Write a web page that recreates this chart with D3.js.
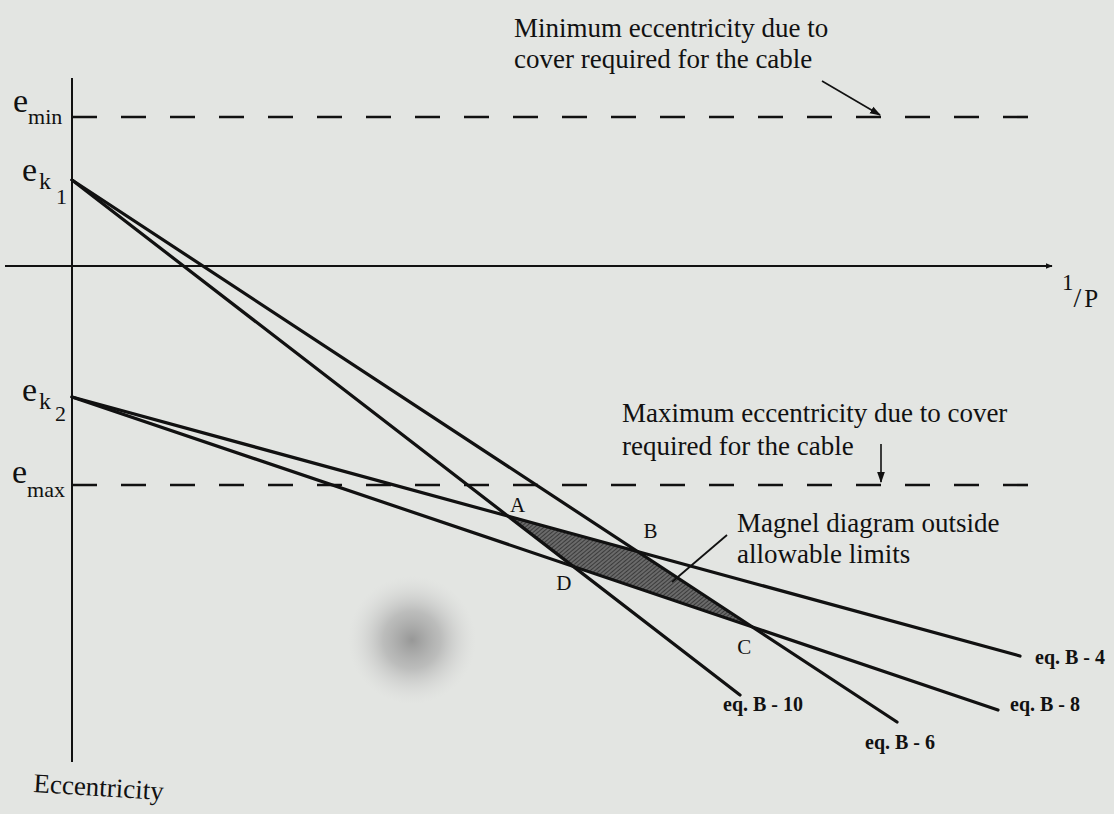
<!DOCTYPE html>
<html>
<head>
<meta charset="utf-8">
<script src="https://cdn.jsdelivr.net/npm/d3@7/dist/d3.min.js"></script>
<style>
  html, body { margin: 0; padding: 0; background: #e3e5e2; }
  svg { display: block; }
  text { font-family: "Liberation Serif", "Times New Roman", serif; fill: #111; }
</style>
</head>
<body>
<svg id="chart" width="1114" height="814"></svg>
<script>
// ---- data (abstract units: x = 1/P, y = eccentricity, downward positive) ----
const limitNames = ["min", "max"];
const limitValues = [-1.49, 2.19];               // e_min, e_max
const originNames = ["1", "2"];
const originValues = [-0.86, 1.31];             // e_k1, e_k2
const eqNames  = ["eq. B - 10", "eq. B - 6", "eq. B - 4", "eq. B - 8"];
const eqOrigin = [0, 0, 1, 1];                  // index into originValues
const eqEndX   = [6.68, 8.25, 9.48, 9.26];
const eqEndE   = [4.29, 4.56, 3.90, 4.44];
const cornerNames = ["A", "B", "C", "D"];
// corners as pairs of equations (indices into eqNames)
const cornerEqs = [[0, 2], [1, 2], [1, 3], [0, 3]];

const svg = d3.select("#chart");
const x = d3.scaleLinear().domain([0, 10]).range([72, 1072]);
const y = d3.scaleLinear().domain([0, 5]).range([266, 766]);

// defs
const defs = svg.append("defs");
const pat = defs.append("pattern").attr("id", "hatch").attr("patternUnits", "userSpaceOnUse")
  .attr("width", 3).attr("height", 3).attr("patternTransform", "rotate(50)");
pat.append("rect").attr("width", 3).attr("height", 3).attr("fill", "#6a6a6a");
pat.append("line").attr("x1", 0).attr("y1", 0).attr("x2", 0).attr("y2", 3)
  .attr("stroke", "#262626").attr("stroke-width", 1.4);
const rg = defs.append("radialGradient").attr("id", "blob");
rg.append("stop").attr("offset", "0%").attr("stop-color", "#8a8a8a").attr("stop-opacity", 0.85);
rg.append("stop").attr("offset", "45%").attr("stop-color", "#a2a2a2").attr("stop-opacity", 0.6);
rg.append("stop").attr("offset", "100%").attr("stop-color", "#d0d0d0").attr("stop-opacity", 0);
const mk = defs.append("marker").attr("id", "arr").attr("viewBox", "0 0 10 10")
  .attr("refX", 9).attr("refY", 5).attr("markerWidth", 7).attr("markerHeight", 7)
  .attr("orient", "auto-start-reverse").attr("markerUnits", "userSpaceOnUse");
mk.append("path").attr("d", "M0,1 L10,5 L0,9 Z").attr("fill", "#111");
const mk2 = defs.append("marker").attr("id", "arr2").attr("viewBox", "0 0 10 10")
  .attr("refX", 9).attr("refY", 5).attr("markerWidth", 11).attr("markerHeight", 11)
  .attr("orient", "auto").attr("markerUnits", "userSpaceOnUse");
mk2.append("path").attr("d", "M0,1.5 L10,5 L0,8.5 Z").attr("fill", "#111");

// background
svg.append("rect").attr("width", 1114).attr("height", 814).attr("fill", "#e3e5e2");
svg.append("circle").attr("cx", 412).attr("cy", 640).attr("r", 64).attr("fill", "url(#blob)");

// axes
svg.append("line").attr("x1", x(0)).attr("x2", x(0)).attr("y1", 78).attr("y2", 762)
  .attr("stroke", "#111").attr("stroke-width", 2);
svg.append("line").attr("x1", 5).attr("x2", x(9.8)).attr("y1", y(0)).attr("y2", y(0))
  .attr("stroke", "#111").attr("stroke-width", 2).attr("marker-end", "url(#arr)");

// limit dashed lines
limitValues.forEach((v) => {
  svg.append("line").attr("x1", x(0)).attr("x2", x(9.6)).attr("y1", y(v)).attr("y2", y(v))
    .attr("stroke", "#111").attr("stroke-width", 2.6).attr("stroke-dasharray", "25 24");
});

// equation lines
const eqLines = eqNames.map((n, i) => ({
  name: n,
  x0: 0, e0: originValues[eqOrigin[i]],
  x1: eqEndX[i], e1: eqEndE[i]
}));
eqLines.forEach(d => { d.m = (d.e1 - d.e0) / (d.x1 - d.x0); });

function intersect(a, b) {
  const t = (b.e0 - a.e0) / (a.m - b.m);
  return [t, a.e0 + a.m * t];
}
const corners = cornerEqs.map(p => intersect(eqLines[p[0]], eqLines[p[1]]));

// shaded region polygon
svg.append("path")
  .attr("d", d3.line().x(d => x(d[0])).y(d => y(d[1]))(corners) + "Z")
  .attr("fill", "url(#hatch)").attr("stroke", "none");

const lineGen = d3.line().x(d => x(d[0])).y(d => y(d[1]));
svg.selectAll(".eq").data(eqLines).enter().append("path")
  .attr("class", "eq")
  .attr("d", d => lineGen([[d.x0, d.e0], [d.x1, d.e1]]))
  .attr("fill", "none").attr("stroke", "#111").attr("stroke-width", 3.2)
  .attr("stroke-linecap", "round");

// equation labels
const eqLabelPos = [[723, 711], [865, 749], [1035, 664], [1010, 711]];
eqNames.forEach((n, i) => {
  svg.append("text").attr("x", eqLabelPos[i][0]).attr("y", eqLabelPos[i][1])
    .attr("font-size", 20).attr("font-weight", "bold").text(n);
});

// corner labels
const cornerOffsets = [[2, -4], [6, -13], [-15, 27], [-17, 24]];
corners.forEach((c, i) => {
  svg.append("text").attr("x", x(c[0]) + cornerOffsets[i][0]).attr("y", y(c[1]) + cornerOffsets[i][1])
    .attr("font-size", 21).text(cornerNames[i]);
});

// axis level labels
function eLabel(px, py, subs) {
  const t = svg.append("text").attr("x", px).attr("y", py);
  t.append("tspan").attr("font-size", 34).text("e");
  subs.forEach(s => {
    t.append("tspan").attr("font-size", s.fs || 22).attr("dx", s.dx || 0).attr("dy", s.dy).text(s.t);
  });
}
eLabel(13, y(limitValues[0]) - 5, [{t: limitNames[0], dy: 12, fs: 22}]);
eLabel(12, y(limitValues[1]) - 2, [{t: limitNames[1], dy: 14, fs: 22}]);
eLabel(22, y(originValues[0]) + 1, [{t: "k", dy: 8, dx: 2, fs: 24}, {t: originNames[0], dy: 15, dx: 5, fs: 22}]);
eLabel(22, y(originValues[1]) + 4, [{t: "k", dy: 8, dx: 2, fs: 24}, {t: originNames[1], dy: 12, dx: 4, fs: 22}]);

// 1/P label
const pl = svg.append("text").attr("x", 1062).attr("y", 290);
pl.append("tspan").attr("font-size", 23).text("1");
pl.append("tspan").attr("font-size", 28).attr("dy", 17).attr("dx", 0).text("/");
pl.append("tspan").attr("font-size", 25).attr("dx", 3).text("P");

// Eccentricity label
svg.append("text").attr("x", 33).attr("y", 792).attr("font-size", 27)
  .attr("transform", "rotate(3.5,33,792)").text("Eccentricity");

// annotations
function multi(px, py, lines, lh) {
  const t = svg.append("text").attr("x", px).attr("y", py).attr("font-size", 27);
  lines.forEach((l, i) => t.append("tspan").attr("x", px).attr("dy", i ? lh : 0).text(l));
}
multi(514, 37, ["Minimum eccentricity due to", "cover required for the cable"], 31);
multi(622, 422, ["Maximum eccentricity due to cover", "required for the cable"], 33);
multi(737, 532, ["Magnel  diagram outside", "allowable limits"], 31);

svg.append("line").attr("x1", 822).attr("y1", 81).attr("x2", x(8.08)).attr("y2", y(limitValues[0]) - 2)
  .attr("stroke", "#111").attr("stroke-width", 1.6).attr("marker-end", "url(#arr2)");
svg.append("line").attr("x1", 881).attr("y1", 444).attr("x2", 881).attr("y2", y(limitValues[1]) - 3)
  .attr("stroke", "#111").attr("stroke-width", 1.6).attr("marker-end", "url(#arr2)");
// pointer to shaded region
svg.append("line").attr("x1", 727).attr("y1", 535).attr("x2", x(6.0)).attr("y2", 582)
  .attr("stroke", "#111").attr("stroke-width", 1.8);
</script>
</body>
</html>
